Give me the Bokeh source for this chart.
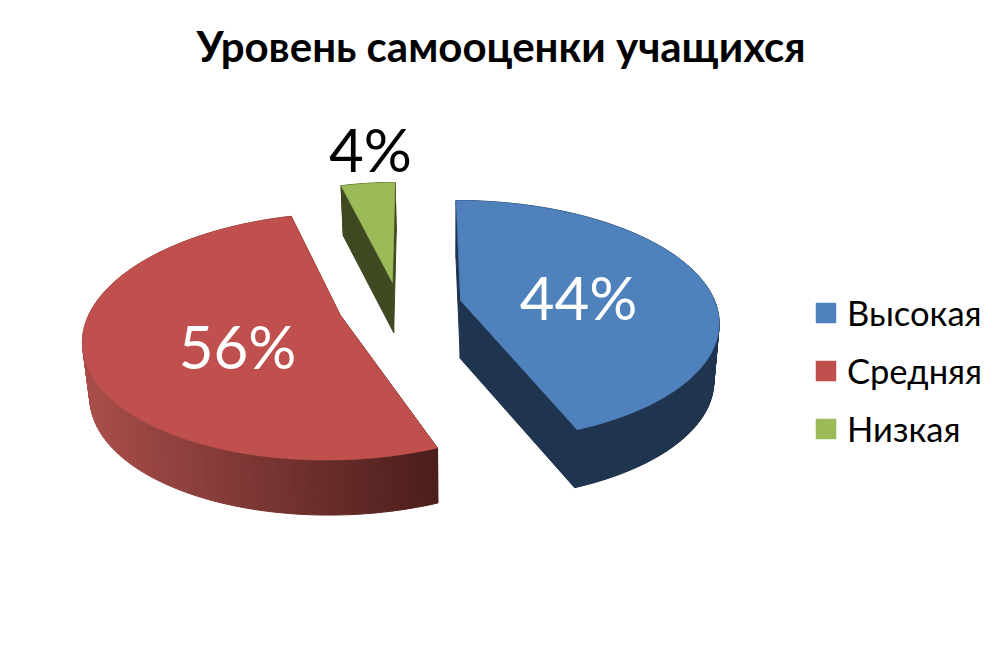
import numpy as np
from bokeh.embed import file_html
from bokeh.resources import INLINE
from bokeh.plotting import figure
from bokeh.models import Legend, LegendItem, Range1d
from bokeh.core.properties import value

TITLE = "Уровень самооценки учащихся"
categories = ["Высокая", "Средняя", "Низкая"]
percent_labels = ["44%", "56%", "4%"]
# slice shares as measured from the drawn angles (the printed labels do not sum to 100)
slice_shares = [44.0, 51.6, 4.4]
top_colors = ["#4F81BD", "#C0504D", "#9BBB59"]
wall_colors = ["#1F344E", None, "#3F4A22"]
label_colors = ["white", "white", "black"]

# layout of the exploded 3D pie (reference pixel space)
apex_x = [460, 340, 392]
apex_y = [300, 315, 282]
apex_depth = [58, 55, 50]
radius = [254.0, 252.0, 230.0]
squash = [117.0, 120.0, 117.0]
vanish_x = [430.0, 410.0, 410.0]
label_x = [578, 237, 370]
label_y = [296, 345, 148]
PERSP = 0.17
WALL_VX, WALL_SHRINK = 450.0, 0.02

FONT = "Lato"

p = figure(width=986, height=653, frame_width=986, frame_height=570,
           output_backend="svg", toolbar_location=None,
           x_range=Range1d(0, 986), y_range=Range1d(653, 83),
           min_border=0, min_border_top=83, outline_line_color=None,
           background_fill_color="white", border_fill_color="white")
p.axis.visible = False
p.grid.visible = False
p.title.text = TITLE
p.title.align = "left"
p.title.text_font = FONT
p.title.text_font_style = "bold"
p.title.text_font_size = "42px"
p.title.text_color = "black"
p.title.standoff = 25
p.title.offset = 196


def project(i, theta):
    u, v = np.sin(theta), -np.cos(theta)
    s = 1.0 / (1.0 - PERSP * v)
    x = vanish_x[i] + (apex_x[i] - vanish_x[i] + radius[i] * u) * s
    y = apex_y[i] + squash[i] * v * s
    return x, y


def drop(i, x, y):
    return WALL_VX + (np.asarray(x) - WALL_VX) * (1 - WALL_SHRINK), np.asarray(y) + apex_depth[i]


def mix(a, b, t):
    return "#%02x%02x%02x" % tuple(int(round(a[k] + (b[k] - a[k]) * t)) for k in range(3))


fractions = np.cumsum([0] + slice_shares) / sum(slice_shares)
RED_L, RED_R = (0xA9, 0x4D, 0x4A), (0x4A, 0x1D, 0x1B)
tops = []
for i in [2, 1, 0]:
    th = np.linspace(fractions[i], fractions[i + 1], 120) * 2 * np.pi
    ax, ay = project(i, th)
    px = np.r_[apex_x[i], ax]
    py = np.r_[apex_y[i], ay]
    bx, by = drop(i, px, py)
    n = len(px)
    xs, ys, cs = [], [], []
    for a in range(n):
        b = (a + 1) % n
        xs.append([px[a], px[b], bx[b], bx[a]])
        ys.append([py[a], py[b], by[b], by[a]])
        if wall_colors[i]:
            cs.append(wall_colors[i])
        else:
            t = np.clip(((px[a] + px[b]) / 2 - 85) / (438 - 85), 0, 1)
            cs.append(mix(RED_L, RED_R, t))
    p.patches(xs, ys, fill_color=cs, line_color=cs, line_width=1)
    tops.append(p.patch(px, py, fill_color=top_colors[i], line_color=top_colors[i], line_width=0.5))
tops = tops[::-1]

for i in range(3):
    p.text([label_x[i]], [label_y[i]], text=[percent_labels[i]], text_color=label_colors[i],
           text_font=value(FONT), text_font_size="60px", text_align="center", text_baseline="middle")

legend = Legend(items=[LegendItem(label=c, renderers=[r]) for c, r in zip(categories, tops)],
                location=(813, 204), orientation="vertical", glyph_width=25, glyph_height=25,
                label_standoff=9, spacing=17, padding=0, margin=0,
                label_text_font=FONT, label_text_font_size="34.5px", label_text_color="black",
                label_height=25, border_line_color=None, background_fill_alpha=0)
p.add_layout(legend)

open("out.html", "w").write(file_html(p, INLINE))
